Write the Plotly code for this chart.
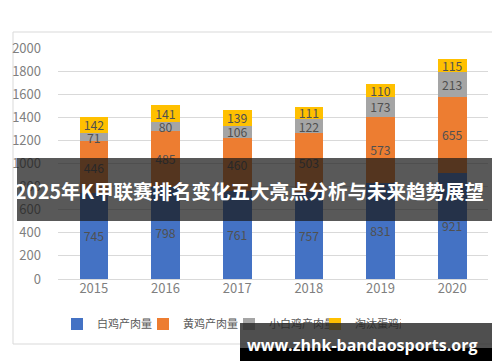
import plotly.graph_objects as go

years = ["2015", "2016", "2017", "2018", "2019", "2020"]
series_names = ["白鸡产肉量", "黄鸡产肉量", "小白鸡产肉量", "淘汰蛋鸡产肉量"]
white_chicken = [745, 798, 761, 757, 831, 921]
yellow_chicken = [446, 485, 460, 503, 573, 655]
small_white = [71, 80, 106, 122, 173, 213]
culled_hens = [142, 141, 139, 111, 110, 115]
y_ticks = [0, 200, 400, 600, 800, 1000, 1200, 1400, 1600, 1800, 2000]
title_text = "2025年K甲联赛排名变化五大亮点分析与未来趋势展望"
watermark_text = "www.zhhk-bandaosports.org"

colors = ["#4472C4", "#ED7D31", "#A5A5A5", "#FFC000"]
all_values = [white_chicken, yellow_chicken, small_white, culled_hens]
FONT = "Noto Sans CJK SC, Noto Sans, sans-serif"

fig = go.Figure()
for name, vals, col in zip(series_names, all_values, colors):
    fig.add_trace(go.Bar(
        x=years, y=vals, name=name, marker_color=col, marker_line_width=0,
        text=[str(v) for v in vals], textposition="inside",
        insidetextanchor="middle", textangle=0,
        textfont=dict(size=12.5, color="#505050", family=FONT),
    ))

# pixel -> paper helpers (plot area: x 50..480, y 40..271)
L, R, T, B = 50, 480, 40, 271
def px(x):
    return (x - L) / (R - L)
def py(y):
    return (B - y) / (B - T)

shapes = [
    dict(type="rect", xref="paper", yref="paper", x0=px(5), x1=px(495), y0=py(336), y1=py(24),
         line=dict(color="#D9D9D9", width=1), fillcolor="rgba(0,0,0,0)", layer="below"),
    dict(type="rect", xref="paper", yref="paper", x0=px(9), x1=px(491), y0=py(213), y1=py(150),
         line=dict(width=0), fillcolor="rgba(25,25,25,0.72)", layer="above"),
]

annotations = [
    dict(text="<b>" + title_text + "</b>", xref="paper", yref="paper", x=px(241), y=py(182),
         xanchor="center", yanchor="middle", showarrow=False,
         font=dict(size=19.5, color="white", family=FONT)),
    dict(text=" ", xref="paper", yref="paper", x=px(232), y=py(315), xanchor="left", yanchor="top",
         width=259, height=25, bgcolor="rgba(40,40,40,0.82)", borderpad=0, borderwidth=0,
         showarrow=False, font=dict(size=1)),
    dict(text=" ", xref="paper", yref="paper", x=px(232), y=py(340), xanchor="left", yanchor="top",
         width=259, height=13, bgcolor="#000000", borderpad=0, borderwidth=0,
         showarrow=False, font=dict(size=1)),
    dict(text="<b>" + watermark_text + "</b>", xref="paper", yref="paper", x=px(354), y=py(337),
         xanchor="center", yanchor="middle", showarrow=False,
         font=dict(size=16, color="white", family="Open Sans, DejaVu Sans, sans-serif")),
]

fig.update_layout(
    width=500, height=362,
    margin=dict(l=L, r=500 - R, t=T, b=362 - B, pad=0, autoexpand=False),
    barmode="stack", bargap=0.6,
    paper_bgcolor="white", plot_bgcolor="white",
    font=dict(family=FONT, color="#7F7F7F", size=12),
    showlegend=True,
    legend=dict(orientation="h", x=px(221), xanchor="center", y=py(316), yanchor="middle",
                font=dict(size=11, color="#595959", family=FONT), traceorder="normal",
                itemwidth=30, entrywidth=41, entrywidthmode="pixels",
                bgcolor="rgba(0,0,0,0)"),
    uniformtext=dict(minsize=12, mode="show"),
    shapes=shapes,
    annotations=annotations,
    xaxis=dict(showgrid=False, showline=False, ticks="", automargin=False,
               tickfont=dict(size=13, color="#7F7F7F")),
    yaxis=dict(range=[0, 2000], tickvals=y_ticks, showgrid=True, gridcolor="#D9D9D9", gridwidth=1,
               zeroline=True, zerolinecolor="#D9D9D9", zerolinewidth=1, showline=False,
               automargin=False, ticks="", ticklabelstandoff=16,
               tickfont=dict(size=13, color="#7F7F7F")),
)

fig.write_html("out.html")
